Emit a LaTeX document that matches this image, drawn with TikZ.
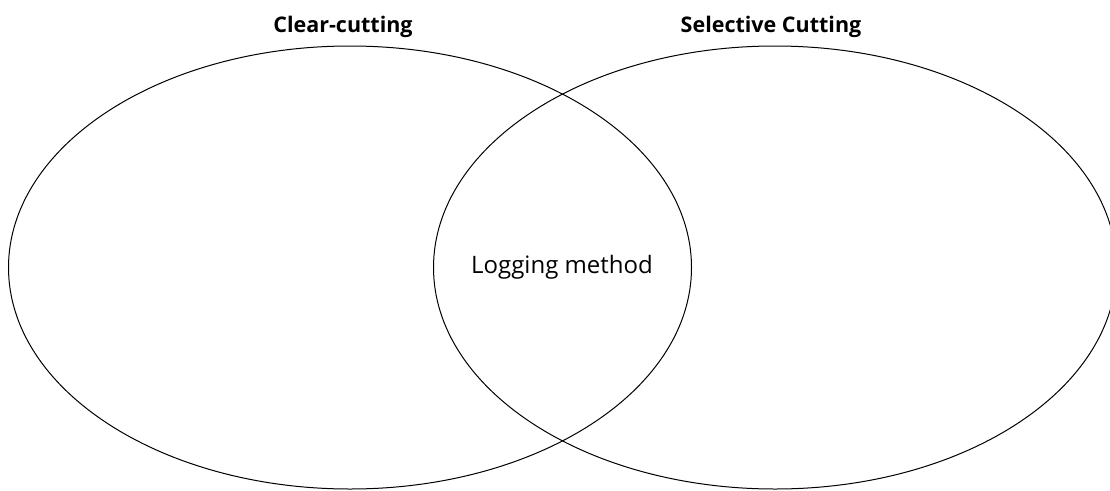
\documentclass[tikz,border=0pt]{standalone}
\usepackage{fontspec}
\setmainfont{Open Sans}
\usetikzlibrary{shapes.geometric}
\begin{document}
\begin{tikzpicture}[x=1pt,y=-1pt,
  set/.style={ellipse, draw=black, line width=1pt, minimum width=683pt, minimum height=443pt, inner sep=0pt},
  title/.style={font=\fontsize{21.5}{26}\selectfont\bfseries, anchor=base, inner sep=0pt},
  body/.style={font=\fontsize{24}{28}\selectfont, anchor=base, inner sep=0pt}]
\useasboundingbox (0,0) rectangle (1110,490);
\clip (0,0) rectangle (1110,490);
\node[set] (left) at (350,267.5) {};
\node[set] (right) at (775,267.5) {};
\node[title] (lt) at (343,32) {Clear-cutting};
\node[title] (rt) at (771,32) {Selective Cutting};
\node[body] (mid) at (562,273) {Logging method};
\end{tikzpicture}
\end{document}
